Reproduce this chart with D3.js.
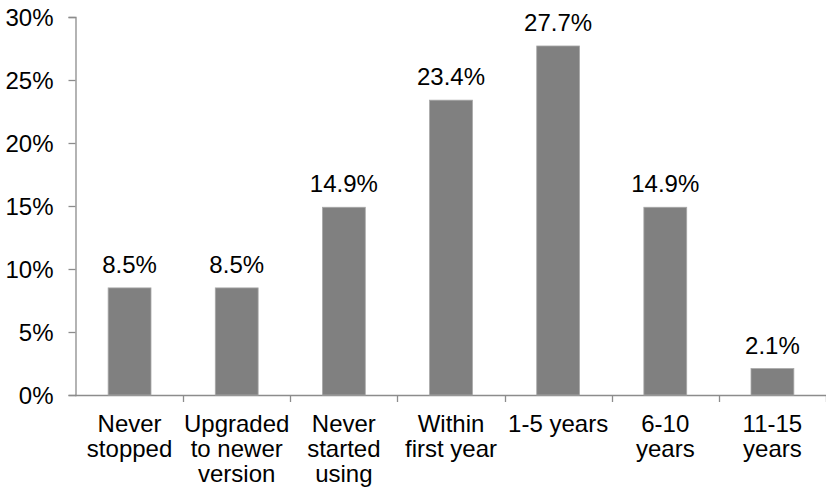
<html>
<head>
<script src="https://d3js.org/d3.v7.min.js"></script>
<style>
  body { margin: 0; background: #fff; }
  text { font-family: "Liberation Sans", Arial, sans-serif; fill: #000; }
</style>
</head>
<body>
<div id="chart"></div>
<script>
// data
const categories = ["Never stopped", "Upgraded to newer version", "Never started using",
  "Within first year", "1-5 years", "6-10 years", "11-15 years"];
const labelLines = [["Never", "stopped"], ["Upgraded", "to newer", "version"], ["Never", "started", "using"],
  ["Within", "first year"], ["1-5 years"], ["6-10", "years"], ["11-15", "years"]];
const values = [8.5, 8.5, 14.9, 23.4, 27.7, 14.9, 2.1];
const yTicks = [0, 5, 10, 15, 20, 25, 30];

const W = 826, H = 494;
const fs = "24px";
const svg = d3.select("#chart").append("svg").attr("width", W).attr("height", H);

const x = d3.scaleBand().domain(categories).range([76, 826]).paddingInner(0.6).paddingOuter(0.3);
const y = d3.scaleLinear().domain([0, 30]).range([395, 17]);
const axisColor = "#8c8c8c";

// y axis
const yAxis = svg.append("g").attr("transform", "translate(75.5,0)")
  .call(d3.axisLeft(y).tickValues(yTicks).tickSize(7).tickPadding(15).tickFormat(d => d + "%"));
yAxis.select(".domain").attr("stroke", axisColor).attr("stroke-width", 1.3);
yAxis.selectAll(".tick line").attr("stroke", axisColor).attr("stroke-width", 1.3);
yAxis.selectAll("text").style("font-size", fs).style("font-family", "'Liberation Sans', Arial, sans-serif")
  .attr("dy", "0.35em").attr("fill", "#000");

// x axis line and ticks between categories
const step = x.step();
const xs = d3.range(categories.length + 1).map(i => 76 + i * step);
svg.append("line").attr("x1", 75).attr("x2", W).attr("y1", y(0) + 0.5).attr("y2", y(0) + 0.5)
  .attr("stroke", axisColor).attr("stroke-width", 1.3);
svg.selectAll(".xtick").data(xs.slice(1)).enter().append("line")
  .attr("x1", d => Math.round(d) + 0.5).attr("x2", d => Math.round(d) + 0.5)
  .attr("y1", y(0)).attr("y2", y(0) + 7)
  .attr("stroke", axisColor).attr("stroke-width", 1.3);

// bars
svg.selectAll(".bar").data(values).enter().append("rect")
  .attr("x", (d, i) => x(categories[i]))
  .attr("width", x.bandwidth())
  .attr("y", d => y(d))
  .attr("height", d => y(0) - y(d))
  .attr("fill", "#808080")
  .attr("stroke", "#a8a8a8").attr("stroke-width", 0.8);

// value labels
svg.selectAll(".val").data(values).enter().append("text")
  .attr("x", (d, i) => x(categories[i]) + x.bandwidth() / 2)
  .attr("y", d => y(d) - 15)
  .attr("text-anchor", "middle")
  .style("font-size", fs)
  .text(d => d.toFixed(1) + "%");

// category labels
const cat = svg.selectAll(".cat").data(labelLines).enter().append("text")
  .attr("text-anchor", "middle")
  .style("font-size", fs);
cat.each(function(lines, i) {
  const cx = x(categories[i]) + x.bandwidth() / 2;
  d3.select(this).selectAll("tspan").data(lines).enter().append("tspan")
    .attr("x", cx)
    .attr("y", (l, j) => 432 + j * 25)
    .text(l => l);
});
</script>
</body>
</html>
